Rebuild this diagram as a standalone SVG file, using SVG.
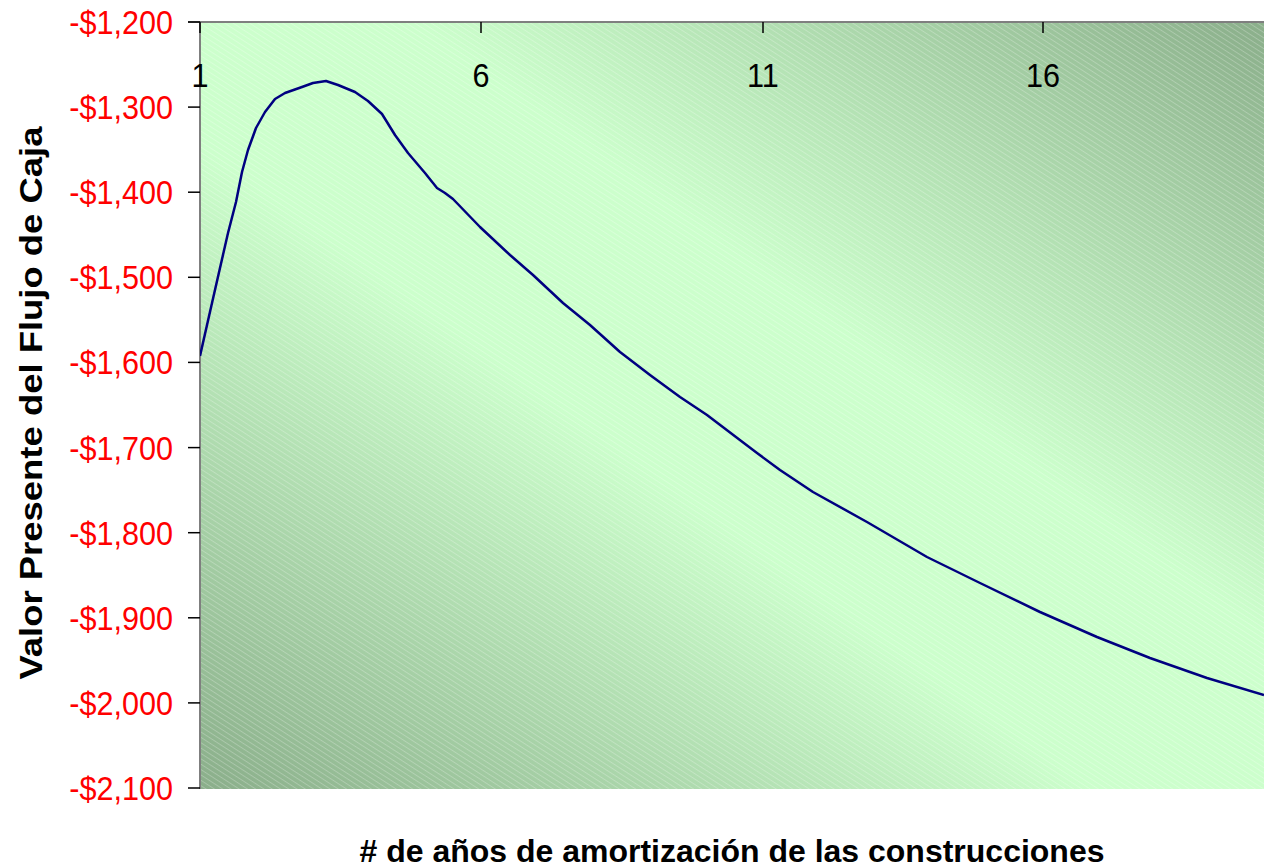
<svg xmlns="http://www.w3.org/2000/svg" width="1264" height="868" viewBox="0 0 1264 868">
<style>
.yl{font-family:"Liberation Sans",Arial,sans-serif;font-size:34px;fill:#ff0000;text-anchor:end}
.xl{font-family:"Liberation Sans",Arial,sans-serif;font-size:34px;fill:#000;text-anchor:middle}
.tt{font-family:"Liberation Sans",Arial,sans-serif;font-size:32px;font-weight:bold;fill:#000;text-anchor:middle}
.tick{stroke:#000;stroke-width:1.5}
.axis{stroke:#7f7f7f;stroke-width:2;fill:none}
</style>
<defs>
<linearGradient id="bg" x1="0" y1="1" x2="1" y2="0">
<stop offset="0" stop-color="#8aae8a"/>
<stop offset="0.28" stop-color="#b6e4b6"/>
<stop offset="0.42" stop-color="#ccffcc"/>
<stop offset="0.6" stop-color="#ccffcc"/>
<stop offset="0.75" stop-color="#b4e2b4"/>
<stop offset="1" stop-color="#8aae8a"/>
</linearGradient>
<pattern id="hatch" width="10" height="4.5" patternUnits="userSpaceOnUse" patternTransform="rotate(33)">
<line x1="0" y1="0.5" x2="10" y2="0.5" stroke="#ffffff" stroke-width="0.7" stroke-opacity="0.35"/>
</pattern>
<clipPath id="pc"><rect x="200" y="22" width="1064" height="767"/></clipPath>
</defs>
<g id="plot-area">
<rect x="200" y="22" width="1064" height="767" fill="url(#bg)"/>
<rect x="200" y="22" width="1064" height="767" fill="url(#hatch)"/>
</g>
<g id="axes">
<line class="axis" x1="200" y1="22" x2="200" y2="789"/>
<line class="axis" x1="188" y1="22" x2="1264" y2="22"/>
<g class="tick">
<line x1="188" y1="22" x2="200" y2="22"/>
<line x1="188" y1="107.1" x2="200" y2="107.1"/>
<line x1="188" y1="192.2" x2="200" y2="192.2"/>
<line x1="188" y1="277.3" x2="200" y2="277.3"/>
<line x1="188" y1="362.4" x2="200" y2="362.4"/>
<line x1="188" y1="447.6" x2="200" y2="447.6"/>
<line x1="188" y1="532.7" x2="200" y2="532.7"/>
<line x1="188" y1="617.8" x2="200" y2="617.8"/>
<line x1="188" y1="702.9" x2="200" y2="702.9"/>
<line x1="188" y1="788" x2="200" y2="788"/>
<line x1="200" y1="22" x2="200" y2="33"/>
<line x1="481" y1="22" x2="481" y2="33"/>
<line x1="763" y1="22" x2="763" y2="33"/>
<line x1="1043" y1="22" x2="1043" y2="33"/>
</g>
</g>
<g id="y-labels" transform="translate(173,0) scale(0.9,1) translate(-173,0)">
<text class="yl" x="173" y="34.5">-$1,200</text>
<text class="yl" x="173" y="119.5">-$1,300</text>
<text class="yl" x="173" y="204.5">-$1,400</text>
<text class="yl" x="173" y="289.5">-$1,500</text>
<text class="yl" x="173" y="374.5">-$1,600</text>
<text class="yl" x="173" y="460">-$1,700</text>
<text class="yl" x="173" y="545">-$1,800</text>
<text class="yl" x="173" y="630">-$1,900</text>
<text class="yl" x="173" y="715">-$2,000</text>
<text class="yl" x="173" y="800.5">-$2,100</text>
</g>
<g id="x-labels">
<text class="xl" transform="translate(200,87) scale(0.9,1)">1</text>
<text class="xl" transform="translate(481,87) scale(0.9,1)">6</text>
<text class="xl" transform="translate(763,87) scale(0.9,1)">11</text>
<text class="xl" transform="translate(1043,87) scale(0.9,1)">16</text>
</g>
<g id="connectors" clip-path="url(#pc)">
<polyline fill="none" stroke="#000080" stroke-width="2.5" stroke-linejoin="round" points="200,356 212,303 228,233 236,202 242,172 248,150 256,128 265,112 275,99 285,93 302,87 313,83 326,81 338,85 355,92 368,101 382,114 395,135 408,153 425,173 437,188 445,193 453,199 480,227 510,255 533,275 563,303 590,325 620,352 650,375 680,397 707,415 757,453 780,470 813,492 867,522 927,557 980,583 1040,612 1097,637 1150,658 1207,678 1264,695"/>
</g>
<g id="titles">
<text class="tt" x="732" y="862" textLength="745" lengthAdjust="spacingAndGlyphs"># de años de amortización de las construcciones</text>
<text class="tt" transform="translate(42,403) rotate(-90)" textLength="553" lengthAdjust="spacingAndGlyphs">Valor Presente del Flujo de Caja</text>
</g>
</svg>
